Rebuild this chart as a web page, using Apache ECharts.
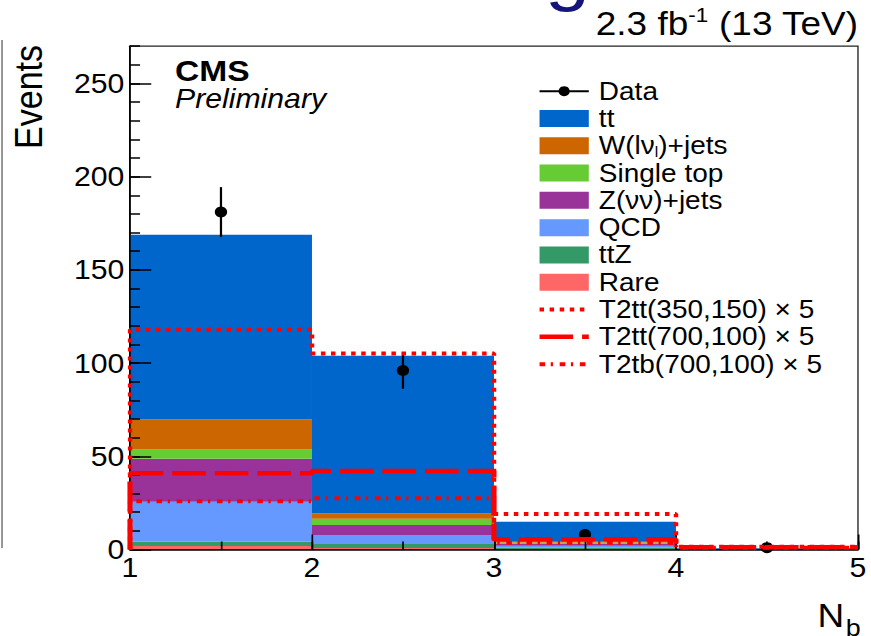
<!DOCTYPE html>
<html>
<head>
<meta charset="utf-8">
<script src="https://cdn.jsdelivr.net/npm/echarts/dist/echarts.min.js"></script>
<style>
  html, body { margin: 0; padding: 0; background: #fff; overflow: hidden; }
  #frame { width: 871px; height: 636px; overflow: hidden; }
  /* the figure is laid out on a 778px canvas and widened to 871px */
  #chart { width: 778px; height: 636px; transform: scaleX(1.1195); transform-origin: 0 0; }
</style>
</head>
<body>
<div id="frame"><div id="chart"></div></div>
<script>
// N_b bins: edges and per-bin yields
const binEdges = [1, 2, 3, 4, 5];

const ttbar     = [99.0, 84.5, 10.4, 0.30];
const wjets     = [16.1, 2.9, 0.7, 0.05];
const singleTop = [5.0, 3.4, 0.6, 0.05];
const zinv      = [23.1, 5.3, 1.2, 0.10];
const qcd       = [21.4, 4.8, 0.9, 0.05];
const ttz       = [2.3, 2.2, 0.8, 0.05];
const rare      = [1.9, 0.8, 0.3, 0.02];

// observed events (bin centres, counts, uncertainties)
const dataX   = [1.5, 2.5, 3.5, 4.5];
const dataY   = [181, 96, 8, 1];
const dataErr = [13.4, 9.8, 2.8, 1.0];

// signal benchmarks, scaled by 5
const sigT2tt350 = [117.9, 105.2, 19.0, 1.5];
const sigT2tt700 = [40.9, 42.1, 5.5, 1.2];
const sigT2tb700 = [25.9, 27.5, 3.6, 1.0];

const FONT = 'Liberation Sans';
const RED = '#ff0000';

// stacked backgrounds, bottom to top
const stackDefs = [
  { name: 'Rare',        values: rare,      color: '#ff6666' },
  { name: 'ttZ',         values: ttz,       color: '#339966' },
  { name: 'QCD',         values: qcd,       color: '#6699ff' },
  { name: 'Z(νν)+jets',  values: zinv,      color: '#993399' },
  { name: 'Single top',  values: singleTop, color: '#66cc33' },
  { name: 'W(lν)+jets',  values: wjets,     color: '#cc6600' },
  { name: 'tt',          values: ttbar,     color: '#0066cc' }
];

const cumulative = binEdges.slice(0, -1).map(() => 0);
const stackSeries = stackDefs.map(def => {
  const rows = def.values.map((v, i) => {
    const lo = cumulative[i];
    cumulative[i] += v;
    return [binEdges[i], binEdges[i + 1], lo, cumulative[i]];
  });
  return {
    type: 'custom',
    name: def.name,
    z: 2,
    data: rows,
    encode: { x: [0, 1], y: [2, 3] },
    itemStyle: { color: def.color },
    renderItem: (params, api) => {
      const tl = api.coord([api.value(0), api.value(3)]);
      const br = api.coord([api.value(1), api.value(2)]);
      return {
        type: 'rect',
        shape: { x: tl[0], y: tl[1], width: br[0] - tl[0], height: br[1] - tl[1] },
        style: { fill: def.color }
      };
    }
  };
});

// histogram outline: rise at the first edge, then one step per bin
function stepData(values) {
  const pts = [[binEdges[0], 0]];
  values.forEach((v, i) => pts.push([binEdges[i], v]));
  pts.push([binEdges[binEdges.length - 1], values[values.length - 1]]);
  return pts;
}

const signalDefs = [
  { name: 'T2tt(350,150) × 5', values: sigT2tt350, dash: [4, 5],        width: 4 },
  { name: 'T2tt(700,100) × 5', values: sigT2tt700, dash: [30, 8],       width: 4.5 },
  { name: 'T2tb(700,100) × 5', values: sigT2tb700, dash: [5, 5, 2, 6],  width: 4 }
];

const signalSeries = signalDefs.map(def => ({
  type: 'line',
  name: def.name,
  z: 5,
  step: 'end',
  symbol: 'none',
  clip: false,
  data: stepData(def.values),
  itemStyle: { color: RED },
  lineStyle: { color: RED, width: def.width, type: def.dash, cap: 'butt' }
}));

const dataSeries = {
  type: 'custom',
  name: 'Data',
  z: 4,
  data: dataX.map((x, i) => [x, dataY[i], dataErr[i]]),
  encode: { x: 0, y: 1 },
  itemStyle: { color: '#000' },
  renderItem: (params, api) => {
    const x = api.value(0), y = api.value(1), e = api.value(2);
    const c = api.coord([x, y]);
    const lo = api.coord([x, y - e]);
    const hi = api.coord([x, y + e]);
    return {
      type: 'group',
      children: [
        { type: 'line', shape: { x1: c[0], y1: lo[1], x2: c[0], y2: hi[1] },
          style: { stroke: '#000', lineWidth: 2 } },
        { type: 'circle', shape: { cx: c[0], cy: c[1], r: 5.5 }, style: { fill: '#000' } }
      ]
    };
  }
};

const legendOrder = ['Data', 'tt', 'W(lν)+jets', 'Single top', 'Z(νν)+jets', 'QCD', 'ttZ', 'Rare',
  'T2tt(350,150) × 5', 'T2tt(700,100) × 5', 'T2tb(700,100) × 5'];
const colorOf = {};
stackDefs.forEach(d => { colorOf[d.name] = d.color; });
const signalOf = {};
signalDefs.forEach(d => { signalOf[d.name] = d; });

const legendData = legendOrder.map(name => {
  if (name === 'Data') {
    return { name, icon: 'path://M0,4H44V6H0Z M22,0A5,5 0 1,1 21.99,0Z', itemStyle: { color: '#000' } };
  }
  if (colorOf[name]) {
    return { name, icon: 'rect', itemStyle: { color: colorOf[name] } };
  }
  // signal outlines: line only, no marker
  const s = signalOf[name];
  return {
    name,
    itemStyle: { opacity: 0 },
    lineStyle: { color: RED, width: s.width, type: s.dash, cap: 'butt' }
  };
});

const axisBase = {
  type: 'value',
  z: 3,
  splitLine: { show: false },
  axisLine: { show: true, lineStyle: { color: '#000', width: 1.5 } }
};

const chart = echarts.init(document.getElementById('chart'), null, { renderer: 'svg' });

chart.setOption({
  animation: false,
  backgroundColor: '#fff',
  grid: {
    left: 116.1, right: 11.6, top: 46.2, bottom: 86.5,
    show: true, borderColor: '#222', borderWidth: 1.2, backgroundColor: 'transparent'
  },
  xAxis: [
    Object.assign({}, axisBase, {
      min: 1, max: 5, interval: 1,
      axisTick: { show: true, inside: true, length: 15, lineStyle: { color: '#000', width: 1.5 } },
      axisLabel: { fontFamily: FONT, fontSize: 27, color: '#000', margin: 5 }
    }),
    Object.assign({}, axisBase, {
      min: 1, max: 5, interval: 0.5, position: 'bottom',
      axisLine: { show: false },
      axisTick: { show: true, inside: true, length: 8, lineStyle: { color: '#000', width: 1.5 } },
      axisLabel: { show: false }
    })
  ],
  yAxis: [
    Object.assign({}, axisBase, {
      min: 0, max: 270, interval: 50,
      axisTick: { show: true, inside: true, length: 19, lineStyle: { color: '#000', width: 1.5 } },
      axisLabel: { fontFamily: FONT, fontSize: 27, color: '#000', margin: 5, showMaxLabel: false }
    }),
    Object.assign({}, axisBase, {
      min: 0, max: 270, interval: 10, position: 'left',
      axisLine: { show: false },
      axisTick: { show: true, inside: true, length: 9, lineStyle: { color: '#000', width: 1.5 } },
      axisLabel: { show: false }
    })
  ],
  legend: {
    orient: 'vertical',
    left: 479.7,
    top: 77.5,
    padding: 0,
    itemWidth: 44,
    itemHeight: 17,
    itemGap: 0,
    selectedMode: false,
    data: legendData,
    textStyle: {
      fontFamily: FONT, fontSize: 25, color: '#000', lineHeight: 27.3, padding: [0, 0, 0, 4],
      rich: {
        t: { fontFamily: FONT, fontSize: 25, color: '#000', lineHeight: 27.3 },
        sub: { fontFamily: FONT, fontSize: 14, color: '#000', lineHeight: 14, verticalAlign: 'bottom' }
      }
    },
    formatter: name => name === 'W(lν)+jets' ? '{t|W(lν}{sub|l}{t|)+jets}' : name
  },
  graphic: [
    { type: 'text', x: 486.8, y: -28, silent: true,
      style: { text: 'g', fontFamily: FONT, fontSize: 72, fill: '#14147a', verticalAlign: 'middle' } },
    { type: 'line', silent: true, shape: { x1: 1.8, y1: 40, x2: 1.8, y2: 548 },
      style: { stroke: '#444', lineWidth: 1 } },
    { type: 'text', x: 766.4, y: 41, silent: true,
      style: {
        text: '{a|2.3 fb}{s|-1}{a| (13 TeV)}', align: 'right', verticalAlign: 'bottom',
        rich: {
          a: { fontFamily: FONT, fontSize: 33, fill: '#000', lineHeight: 36 },
          s: { fontFamily: FONT, fontSize: 20, fill: '#000', lineHeight: 22, verticalAlign: 'top' }
        }
      } },
    { type: 'text', x: 26, y: 45, rotation: Math.PI / 2, silent: true,
      style: { text: 'Events', fontFamily: FONT, fontSize: 34, fill: '#000', align: 'right', verticalAlign: 'middle' } },
    { type: 'text', x: 156.3, y: 71, silent: true,
      style: { text: 'CMS', fontFamily: FONT, fontWeight: 'bold', fontSize: 30, lineHeight: 22, fill: '#000', verticalAlign: 'middle' } },
    { type: 'text', x: 156.3, y: 98.5, silent: true,
      style: { text: 'Preliminary', fontFamily: FONT, fontStyle: 'italic', fontSize: 27, lineHeight: 20, fill: '#000', verticalAlign: 'middle' } },
    { type: 'text', x: 754, y: 615, silent: true,
      style: { text: 'N', fontFamily: FONT, fontSize: 33, fill: '#000', align: 'right', verticalAlign: 'middle' } },
    { type: 'text', x: 755.5, y: 628, silent: true,
      style: { text: 'b', fontFamily: FONT, fontSize: 24, fill: '#000', align: 'left', verticalAlign: 'middle' } }
  ],
  series: [...stackSeries, dataSeries, ...signalSeries]
});
</script>
</body>
</html>
